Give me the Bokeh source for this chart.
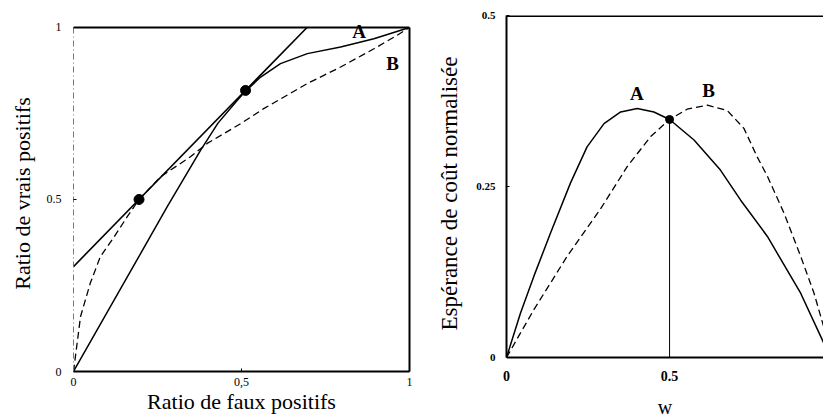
from bokeh.plotting import figure
from bokeh.layouts import row
from bokeh.models import Range1d, FixedTicker, Span, Label, LinearAxis
from bokeh.embed import file_html
from bokeh.resources import INLINE

# ---- Left panel: ROC space ----
roc_a_fpr = [0, 0.279, 0.378, 0.43, 0.487, 0.512, 0.557, 0.616, 0.696, 0.795, 0.894, 1.0]
roc_a_tpr = [0, 0.479, 0.643, 0.722, 0.788, 0.815, 0.856, 0.895, 0.924, 0.943, 0.967, 1.0]
roc_b_fpr = [0, 0.021, 0.05, 0.08, 0.12, 0.16, 0.195, 0.259, 0.348, 0.398, 0.497, 0.566, 0.696, 0.795, 0.894, 0.963, 1.0]
roc_b_tpr = [0, 0.16, 0.257, 0.334, 0.39, 0.45, 0.5, 0.566, 0.624, 0.663, 0.72, 0.764, 0.837, 0.885, 0.938, 0.977, 1.0]
iso_fpr = [0, 0.695]
iso_tpr = [0.305, 1.0]
tangent_fpr = [0.195, 0.512]
tangent_tpr = [0.5, 0.817]
roc_ticks = [0, 0.5, 1]
roc_xtick_labels = ["0", "0,5", "1"]
roc_ytick_labels = ["0", "0.5", "1"]

# ---- Right panel: cost curves ----
cost_a_w = [0, 0.043, 0.084, 0.135, 0.196, 0.247, 0.299, 0.35, 0.401, 0.452, 0.5, 0.575, 0.656, 0.718, 0.8, 0.902, 0.973, 1.0]
cost_a_c = [0, 0.065, 0.119, 0.182, 0.255, 0.308, 0.342, 0.359, 0.364, 0.359, 0.348, 0.318, 0.274, 0.23, 0.177, 0.094, 0.021, 0.0]
cost_b_w = [0, 0.043, 0.084, 0.186, 0.288, 0.37, 0.442, 0.5, 0.554, 0.616, 0.677, 0.728, 0.769, 0.8, 0.851, 0.902, 0.943, 0.972, 1.0]
cost_b_c = [0, 0.036, 0.07, 0.148, 0.217, 0.279, 0.323, 0.348, 0.363, 0.369, 0.361, 0.335, 0.293, 0.265, 0.211, 0.148, 0.094, 0.046, 0.0]
cross_w = [0.5]
cross_c = [0.348]
cost_yticks = [0, 0.25, 0.5]
cost_ytick_labels = ["0", "0.25", "0.5"]
cost_xticks = [0, 0.5]
cost_xtick_labels = ["0", "0.5"]

SERIF = "Liberation Serif"

# ================= Left figure =================
p1 = figure(width=420, height=420, output_backend="svg", toolbar_location=None,
            x_range=Range1d(0, 1), y_range=Range1d(0, 1.0348),
            min_border_left=73, min_border_right=11, min_border_top=15, min_border_bottom=48)
p1.outline_line_color = None
p1.grid.visible = False

p1.line(roc_b_fpr, roc_b_tpr, line_color="black", line_width=1.3, line_dash="7 4")
p1.line(roc_a_fpr, roc_a_tpr, line_color="black", line_width=1.5)
p1.line(iso_fpr, iso_tpr, line_color="black", line_width=1.6)
p1.scatter(tangent_fpr, tangent_tpr, size=10, color="black")

for ax in (p1.xaxis[0], p1.yaxis[0]):
    ax.major_tick_in = 3
    ax.major_tick_out = 0
    ax.minor_tick_line_color = None
    ax.major_label_text_font = SERIF
    ax.major_label_text_font_size = "12px"
    ax.major_label_text_color = "black"
    ax.axis_label_text_font = SERIF
    ax.axis_label_text_font_style = "normal"
    ax.axis_label_text_color = "black"

p1.xaxis.ticker = FixedTicker(ticks=roc_ticks)
p1.xaxis.major_label_overrides = dict(zip(roc_ticks, roc_xtick_labels))
p1.xaxis.axis_label = "Ratio de faux positifs"
p1.xaxis.axis_label_text_font_size = "22px"
p1.xaxis.major_label_standoff = 6
p1.xaxis.axis_label_standoff = 0
p1.xaxis.axis_line_color = "black"
p1.xaxis.axis_line_width = 2

p1.yaxis.ticker = FixedTicker(ticks=roc_ticks)
p1.yaxis.major_label_overrides = dict(zip(roc_ticks, roc_ytick_labels))
p1.yaxis.bounds = (0, 1)
p1.yaxis.axis_label = "Ratio de vrais positifs"
p1.yaxis.axis_label_text_font_size = "22px"
p1.yaxis.major_label_standoff = 12
p1.yaxis.axis_label_standoff = 9
p1.yaxis.axis_line_color = "#777777"
p1.yaxis.axis_line_width = 1
p1.yaxis.axis_line_dash = "6 3 1 3"

right_border = LinearAxis(bounds=(0, 1), ticker=FixedTicker(ticks=[]),
                          axis_line_color="black", axis_line_width=2,
                          major_tick_line_color=None, minor_tick_line_color=None,
                          major_label_standoff=0)
p1.add_layout(right_border, "right")
p1.add_layout(Span(location=1, dimension="width", line_color="black", line_width=2))

p1.add_layout(Label(x=0.85, y=0.988, text="A", text_font=SERIF, text_font_size="19px",
                    text_font_style="bold", text_color="black",
                    text_align="center", text_baseline="middle"))
p1.add_layout(Label(x=0.95, y=0.895, text="B", text_font=SERIF, text_font_size="19px",
                    text_font_style="bold", text_color="black",
                    text_align="center", text_baseline="middle"))

# ================= Right figure =================
p2 = figure(width=403, height=420, output_backend="svg", toolbar_location=None,
            x_range=Range1d(0, 0.972), y_range=Range1d(-0.0204, 0.5),
            min_border_left=86, min_border_right=0, min_border_top=15, min_border_bottom=48)
p2.outline_line_color = None
p2.grid.visible = False

p2.line(cost_b_w, cost_b_c, line_color="black", line_width=1.3, line_dash="7 4")
p2.line(cost_a_w, cost_a_c, line_color="black", line_width=1.5)
p2.segment(x0=cross_w, y0=[0], x1=cross_w, y1=cross_c, line_color="black", line_width=1)
p2.scatter(cross_w, cross_c, size=8, color="black")

for ax in (p2.xaxis[0], p2.yaxis[0]):
    ax.minor_tick_line_color = None
    ax.major_label_text_font = SERIF
    ax.major_label_text_font_style = "bold"
    ax.major_label_text_color = "black"
    ax.axis_label_text_font = SERIF
    ax.axis_label_text_font_style = "normal"
    ax.axis_label_text_color = "black"

p2.xaxis.ticker = FixedTicker(ticks=cost_xticks)
p2.xaxis.major_label_overrides = dict(zip(cost_xticks, cost_xtick_labels))
p2.xaxis.major_label_text_font_size = "14px"
p2.xaxis.major_label_standoff = -7
p2.xaxis.axis_line_color = None
p2.xaxis.major_tick_line_color = None
p2.xaxis.axis_label = "w"
p2.xaxis.axis_label_text_font_size = "20px"
p2.xaxis.axis_label_standoff = 12

p2.yaxis.ticker = FixedTicker(ticks=cost_yticks)
p2.yaxis.major_label_overrides = dict(zip(cost_yticks, cost_ytick_labels))
p2.yaxis.bounds = (0, 0.5)
p2.yaxis.major_tick_in = 3
p2.yaxis.major_tick_out = 0
p2.yaxis.major_label_text_font_size = "11px"
p2.yaxis.major_label_standoff = 11
p2.yaxis.axis_line_color = "black"
p2.yaxis.axis_line_width = 2
p2.yaxis.axis_label = "Espérance de coût normalisée"
p2.yaxis.axis_label_text_font_size = "23px"
p2.yaxis.axis_label_standoff = 11

p2.add_layout(Span(location=0.5, dimension="width", line_color="black", line_width=3))
p2.add_layout(Span(location=0, dimension="width", line_color="black", line_width=2))

p2.add_layout(Label(x=0.4, y=0.386, text="A", text_font=SERIF, text_font_size="19px",
                    text_font_style="bold", text_color="black",
                    text_align="center", text_baseline="middle"))
p2.add_layout(Label(x=0.62, y=0.39, text="B", text_font=SERIF, text_font_size="19px",
                    text_font_style="bold", text_color="black",
                    text_align="center", text_baseline="middle"))

layout = row(p1, p2)
open("out.html", "w").write(file_html(layout, INLINE))
